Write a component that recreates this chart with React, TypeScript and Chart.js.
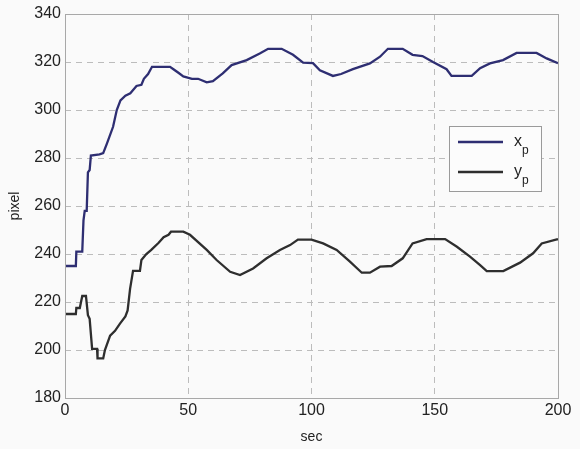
import React, { useEffect, useRef } from "react";
import { Chart, registerables } from "chart.js";

Chart.register(...registerables);

const xTicks = [0, 50, 100, 150, 200];
const yTicks = [180, 200, 220, 240, 260, 280, 300, 320, 340];

const xpTimes = [0, 4.4, 4.6, 7, 7.5, 8, 8.8, 9.3, 10, 10.5, 14, 15.5, 17, 19.5, 21, 22.5, 24.5, 26.5, 29, 31, 32, 33.7, 35.3, 42.6, 44, 46, 48, 51.5, 54, 57.5, 60, 64, 67.6, 73.7, 79, 82.4, 87.9, 92.5, 96.6, 100.6, 103.4, 108.7, 112, 116.8, 123.7, 127.8, 131, 137, 141, 145, 149.3, 154.8, 156.8, 165, 168.4, 172.4, 177.7, 183.2, 191.3, 195.4, 200];
const xpValues = [235, 235, 241, 241, 254, 258, 258, 274, 275, 281, 281.5, 282, 286, 293, 300, 304, 306, 307, 310, 310.5, 313, 315, 318, 318, 317, 315.5, 314, 313, 313, 311.5, 312, 315.3, 318.7, 320.8, 323.5, 325.5, 325.5, 323, 319.7, 319.5, 316.5, 314.2, 315, 317, 319.4, 322.2, 325.5, 325.5, 323, 322.5, 320, 317, 314.2, 314.2, 317.4, 319.4, 320.8, 323.8, 323.8, 321.5, 319.5];

const ypTimes = [0, 4.4, 4.6, 6, 7, 8.5, 9.3, 10, 11, 13, 13.2, 15.5, 16.2, 18.3, 20.3, 22.3, 24.5, 25.4, 26.4, 27.6, 30.4, 31, 33, 35, 38, 40, 42, 43, 48, 50.7, 57.5, 61.5, 67, 71, 76.3, 81.8, 87.2, 91.3, 94.5, 100, 104.7, 110.2, 115.6, 120.4, 123.7, 127.8, 132.5, 137, 141, 146.7, 154.2, 159, 164.3, 168.4, 171.1, 177.8, 184.6, 189.9, 193.4, 199.5, 200];
const ypValues = [215, 215, 217.5, 217.5, 222.5, 222.5, 214.5, 213, 200.5, 200.5, 196.5, 196.5, 200, 206, 208, 211, 214, 216.5, 225.5, 233, 233, 237.5, 240, 241.7, 244.7, 247, 248, 249.3, 249.3, 248, 241.7, 237.5, 232.6, 231.2, 234, 238.2, 241.7, 243.7, 246, 246, 244.4, 241.7, 236.8, 232.2, 232.2, 234.7, 235, 238.2, 244.4, 246.2, 246.2, 243, 238.9, 235.4, 232.9, 232.9, 236.4, 240.3, 244.4, 246.1, 246.1];

const seriesNames = ["x", "y"];
const seriesSub = ["p", "p"];
const seriesColors = ["#2e2e72", "#2e2e2e"];

const FONT = "'Liberation Sans', Arial, sans-serif";

const framePlugin = {
  id: "frameAndLegend",
  afterDraw(chart: any) {
    const { ctx, chartArea } = chart;
    ctx.save();
    ctx.strokeStyle = "#a8a8a8";
    ctx.lineWidth = 1;
    ctx.setLineDash([]);
    ctx.strokeRect(
      Math.round(chartArea.left) + 0.5,
      Math.round(chartArea.top) + 0.5,
      Math.round(chartArea.right - chartArea.left),
      Math.round(chartArea.bottom - chartArea.top)
    );
    // legend box
    const bx = 449, by = 126, bw = 92, bh = 65;
    ctx.fillStyle = "#fcfcfc";
    ctx.fillRect(bx, by, bw, bh);
    ctx.strokeStyle = "#9a9a9a";
    ctx.strokeRect(bx + 0.5, by + 0.5, bw, bh);
    seriesNames.forEach((name, i) => {
      const ly = by + 16 + i * 30;
      ctx.strokeStyle = seriesColors[i];
      ctx.lineWidth = 2.5;
      ctx.beginPath();
      ctx.moveTo(bx + 9, ly);
      ctx.lineTo(bx + 54, ly);
      ctx.stroke();
      ctx.fillStyle = "#222";
      ctx.textBaseline = "alphabetic";
      ctx.textAlign = "left";
      ctx.font = `16px ${FONT}`;
      ctx.fillText(name, bx + 65, ly + 4);
      ctx.font = `12px ${FONT}`;
      ctx.fillText(seriesSub[i], bx + 73, ly + 12);
    });
    ctx.restore();
  },
};

export default function App() {
  const ref = useRef<HTMLCanvasElement>(null);
  useEffect(() => {
    const canvas = ref.current;
    if (!canvas) return;
    const chart = new Chart(canvas, {
      type: "line",
      data: {
        datasets: [
          {
            label: "xp",
            data: xpTimes.map((t, i) => ({ x: t, y: xpValues[i] })),
            borderColor: seriesColors[0],
            borderWidth: 2.3,
            pointRadius: 0,
            tension: 0,
            fill: false,
          },
          {
            label: "yp",
            data: ypTimes.map((t, i) => ({ x: t, y: ypValues[i] })),
            borderColor: seriesColors[1],
            borderWidth: 2.3,
            pointRadius: 0,
            tension: 0,
            fill: false,
          },
        ],
      },
      options: {
        responsive: false,
        animation: false,
        layout: { padding: { left: 0, right: 22, top: 14, bottom: 0 } },
        plugins: {
          legend: { display: false },
          tooltip: { enabled: false },
        },
        scales: {
          x: {
            type: "linear",
            min: 0,
            max: 200,
            afterBuildTicks: (scale: any) => {
              scale.ticks = xTicks.map((v) => ({ value: v }));
            },
            afterFit: (scale: any) => {
              scale.height = 51;
            },
            ticks: {
              padding: 3,
              color: "#222",
              font: { family: FONT, size: 16 },
              maxRotation: 0,
            },
            grid: {
              color: "#bcbcbc",
              lineWidth: 1,
              drawTicks: false,
            },
            border: { display: false, dash: [6, 5] },
            title: {
              display: true,
              text: "sec",
              color: "#222",
              font: { family: FONT, size: 14 },
              padding: { top: 0, bottom: 3 },
            },
          },
          y: {
            type: "linear",
            min: 180,
            max: 340,
            afterBuildTicks: (scale: any) => {
              scale.ticks = yTicks.map((v) => ({ value: v }));
            },
            afterFit: (scale: any) => {
              scale.width = 65;
            },
            ticks: {
              padding: 4,
              color: "#222",
              font: { family: FONT, size: 16 },
            },
            grid: {
              color: "#bcbcbc",
              lineWidth: 1,
              drawTicks: false,
            },
            border: { display: false, dash: [6, 5] },
            title: {
              display: true,
              text: "pixel",
              color: "#222",
              font: { family: FONT, size: 14 },
              padding: { top: 7, bottom: 0 },
            },
          },
        },
      },
      plugins: [framePlugin],
    } as any);
    return () => chart.destroy();
  }, []);
  return (
    <div style={{ position: "fixed", left: 0, top: 0, width: 580, height: 449, background: "#fafafa" }}>
      <canvas ref={ref} width={580} height={449} style={{ display: "block" }} />
    </div>
  );
}
